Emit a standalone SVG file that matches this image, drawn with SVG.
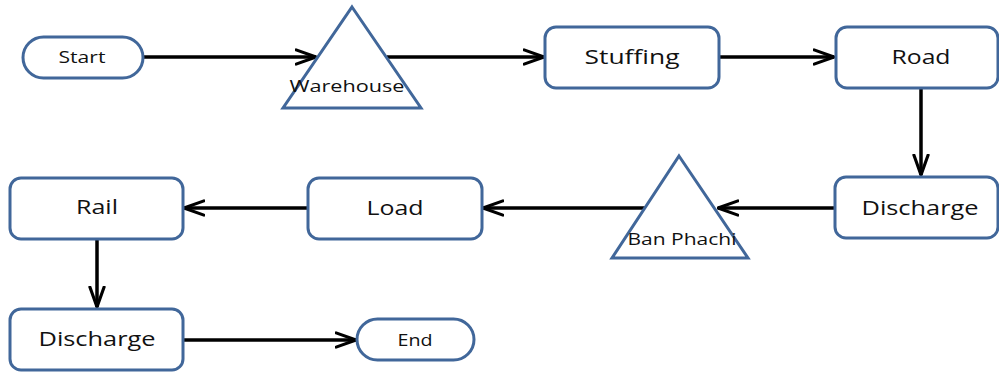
<svg xmlns="http://www.w3.org/2000/svg" width="999" height="372" viewBox="0 0 999 372">
<style>
.n{fill:#fff;stroke:#41679a;stroke-width:3}
.t{font-family:"Open Sans","DejaVu Sans",sans-serif;font-size:20px;fill:#111;text-anchor:middle;dominant-baseline:central}
.s{font-size:17px}
.c{fill:none;stroke:#000;stroke-width:3.5}
</style>
<defs>
<marker id="a" viewBox="0 0 16 12" refX="15" refY="6" markerWidth="6.5" markerHeight="5" orient="auto" markerUnits="strokeWidth">
<path d="M1,1 L15,6 L1,11" fill="none" stroke="#000" stroke-width="2.2" stroke-linecap="round" stroke-linejoin="round"/>
</marker>
</defs>
<rect width="999" height="372" fill="#fff"/>
<g id="connectors">
<path class="c" d="M143,57 H316" marker-end="url(#a)"/>
<path class="c" d="M387,57 H544" marker-end="url(#a)"/>
<path class="c" d="M719,57 H834" marker-end="url(#a)"/>
<path class="c" d="M921,88 V175" marker-end="url(#a)"/>
<path class="c" d="M835,208 H718" marker-end="url(#a)"/>
<path class="c" d="M645,208 H483" marker-end="url(#a)"/>
<path class="c" d="M308,208 H184" marker-end="url(#a)"/>
<path class="c" d="M97,239 V307" marker-end="url(#a)"/>
<path class="c" d="M183,340 H356" marker-end="url(#a)"/>
</g>
<g id="start"><rect class="n" x="23" y="37" width="120" height="41" rx="20.5"/><text class="t s" x="82" y="56" textLength="47" lengthAdjust="spacingAndGlyphs">Start</text></g>
<g id="warehouse"><polygon class="n" points="352,7 421,108 283,108"/><text class="t s" x="347" y="85" textLength="115" lengthAdjust="spacingAndGlyphs">Warehouse</text></g>
<g id="stuffing"><rect class="n" x="545" y="27" width="174" height="61" rx="11"/><text class="t" x="632" y="56" textLength="95" lengthAdjust="spacingAndGlyphs">Stuffing</text></g>
<g id="road"><rect class="n" x="836" y="27" width="162" height="61" rx="11"/><text class="t" x="921" y="56" textLength="59" lengthAdjust="spacingAndGlyphs">Road</text></g>
<g id="discharge1"><rect class="n" x="835" y="177" width="163" height="61" rx="11"/><text class="t" x="920" y="207" textLength="117" lengthAdjust="spacingAndGlyphs">Discharge</text></g>
<g id="banphachi"><polygon class="n" points="679,156 748,258 612,258"/><text class="t s" x="682" y="238" textLength="109" lengthAdjust="spacingAndGlyphs">Ban Phachi</text></g>
<g id="load"><rect class="n" x="308" y="178" width="174" height="61" rx="11"/><text class="t" x="395" y="207" textLength="57" lengthAdjust="spacingAndGlyphs">Load</text></g>
<g id="rail"><rect class="n" x="10" y="178" width="173" height="61" rx="11"/><text class="t" x="97" y="206" textLength="42" lengthAdjust="spacingAndGlyphs">Rail</text></g>
<g id="discharge2"><rect class="n" x="10" y="309" width="173" height="61" rx="11"/><text class="t" x="97" y="338" textLength="117" lengthAdjust="spacingAndGlyphs">Discharge</text></g>
<g id="end"><rect class="n" x="357" y="319" width="117" height="41" rx="20.5"/><text class="t s" x="415" y="339" textLength="35" lengthAdjust="spacingAndGlyphs">End</text></g>
</svg>
